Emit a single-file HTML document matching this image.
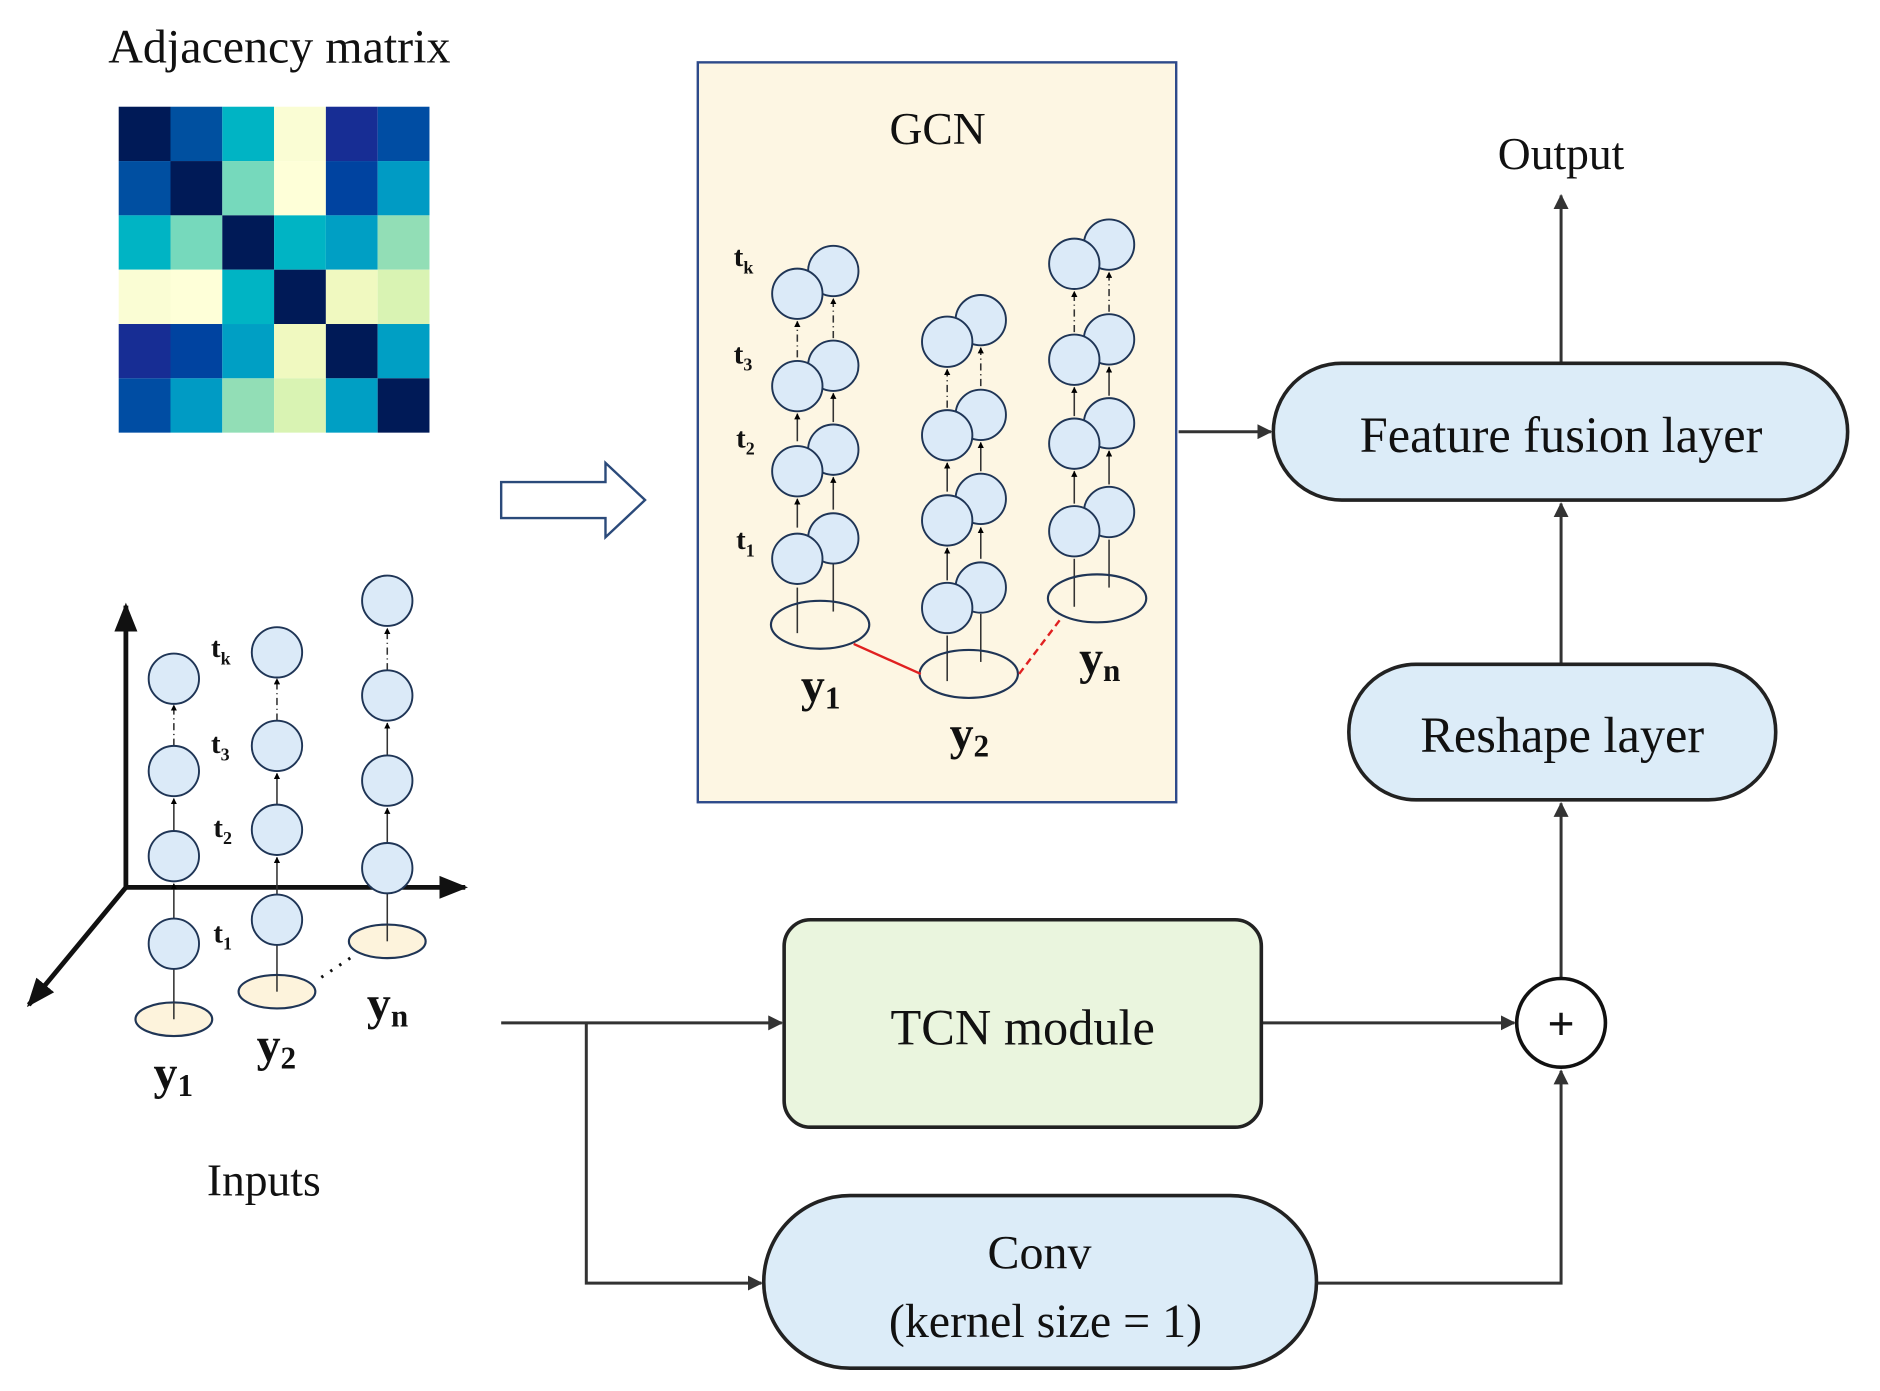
<!DOCTYPE html>
<html><head><meta charset="utf-8"><style>
html,body{margin:0;padding:0;background:#fff;}
svg{display:block;}
text{font-family:"Liberation Serif",serif;fill:#111;}
</style></head><body>
<svg width="1880" height="1391" viewBox="0 0 1568 1160" preserveAspectRatio="none" xmlns="http://www.w3.org/2000/svg">
<defs>
<marker id="ah" viewBox="0 0 10 10" refX="9" refY="5" markerWidth="5" markerHeight="5" orient="auto"><path d="M0,0 L10,5 L0,10 z" fill="#333"/></marker>
<marker id="ak" viewBox="0 0 10 10" refX="9" refY="5" markerWidth="4" markerHeight="4" orient="auto"><path d="M0,0 L10,5 L0,10 z" fill="#000"/></marker>
<marker id="sm" viewBox="0 0 10 10" refX="9" refY="5" markerWidth="6" markerHeight="6" orient="auto"><path d="M0,1 L10,5 L0,9 z" fill="#111"/></marker>
</defs>

<text x="233" y="52" font-size="40" text-anchor="middle">Adjacency matrix</text>
<g transform="translate(99,89)">
<rect x="0" y="0" width="43.2" height="45.3" fill="#001a57"/><rect x="43.2" y="0" width="43.2" height="45.3" fill="#0050a0"/><rect x="86.4" y="0" width="43.2" height="45.3" fill="#00b4c4"/><rect x="129.6" y="0" width="43.2" height="45.3" fill="#fafdd4"/><rect x="172.8" y="0" width="43.2" height="45.3" fill="#172d94"/><rect x="216" y="0" width="43.2" height="45.3" fill="#004da3"/>
<rect x="0" y="45.3" width="43.2" height="45.3" fill="#004fa1"/><rect x="43.2" y="45.3" width="43.2" height="45.3" fill="#001a57"/><rect x="86.4" y="45.3" width="43.2" height="45.3" fill="#76d9bc"/><rect x="129.6" y="45.3" width="43.2" height="45.3" fill="#feffd8"/><rect x="172.8" y="45.3" width="43.2" height="45.3" fill="#0043a0"/><rect x="216" y="45.3" width="43.2" height="45.3" fill="#009bc4"/>
<rect x="0" y="90.6" width="43.2" height="45.3" fill="#00b4c4"/><rect x="43.2" y="90.6" width="43.2" height="45.3" fill="#76d9bc"/><rect x="86.4" y="90.6" width="43.2" height="45.3" fill="#001a57"/><rect x="129.6" y="90.6" width="43.2" height="45.3" fill="#00b4c4"/><rect x="172.8" y="90.6" width="43.2" height="45.3" fill="#009fc4"/><rect x="216" y="90.6" width="43.2" height="45.3" fill="#92deb6"/>
<rect x="0" y="135.9" width="43.2" height="45.3" fill="#fafdd4"/><rect x="43.2" y="135.9" width="43.2" height="45.3" fill="#feffd8"/><rect x="86.4" y="135.9" width="43.2" height="45.3" fill="#00b4c4"/><rect x="129.6" y="135.9" width="43.2" height="45.3" fill="#001a57"/><rect x="172.8" y="135.9" width="43.2" height="45.3" fill="#f0f9c0"/><rect x="216" y="135.9" width="43.2" height="45.3" fill="#d9f3b3"/>
<rect x="0" y="181.2" width="43.2" height="45.3" fill="#172d94"/><rect x="43.2" y="181.2" width="43.2" height="45.3" fill="#0043a0"/><rect x="86.4" y="181.2" width="43.2" height="45.3" fill="#009fc4"/><rect x="129.6" y="181.2" width="43.2" height="45.3" fill="#f0f9c0"/><rect x="172.8" y="181.2" width="43.2" height="45.3" fill="#001a57"/><rect x="216" y="181.2" width="43.2" height="45.3" fill="#009fc4"/>
<rect x="0" y="226.5" width="43.2" height="45.3" fill="#004da3"/><rect x="43.2" y="226.5" width="43.2" height="45.3" fill="#009bc4"/><rect x="86.4" y="226.5" width="43.2" height="45.3" fill="#92deb6"/><rect x="129.6" y="226.5" width="43.2" height="45.3" fill="#d9f3b3"/><rect x="172.8" y="226.5" width="43.2" height="45.3" fill="#009fc4"/><rect x="216" y="226.5" width="43.2" height="45.3" fill="#001a57"/>
</g>

<path d="M418,402 L505,402 L505,386 L538,417 L505,448 L505,432 L418,432 Z" fill="#fff" stroke="#2b4a7a" stroke-width="2"/>

<rect x="582" y="52" width="399" height="617" fill="#fdf6e3" stroke="#2e4a8a" stroke-width="2"/>
<text x="782" y="120" font-size="38" text-anchor="middle">GCN</text>

<g stroke="#333" stroke-width="1.3" fill="none">
<line x1="665" y1="528" x2="665" y2="490" />
<line x1="695" y1="510" x2="695" y2="470" />
<line x1="665" y1="440" x2="665" y2="416" marker-end="url(#ak)"/>
<line x1="695" y1="425" x2="695" y2="398" marker-end="url(#ak)"/>
<line x1="665" y1="368" x2="665" y2="345" marker-end="url(#ak)"/>
<line x1="695" y1="352" x2="695" y2="328" marker-end="url(#ak)"/>
<line x1="665" y1="298" x2="665" y2="268" stroke-dasharray="6,3,1,3" marker-end="url(#ak)"/>
<line x1="695" y1="282" x2="695" y2="249" stroke-dasharray="6,3,1,3" marker-end="url(#ak)"/>
<line x1="790" y1="568" x2="790" y2="530"/>
<line x1="818" y1="552" x2="818" y2="512"/>
<line x1="790" y1="484" x2="790" y2="457" marker-end="url(#ak)"/>
<line x1="818" y1="466" x2="818" y2="440" marker-end="url(#ak)"/>
<line x1="790" y1="410" x2="790" y2="386" marker-end="url(#ak)"/>
<line x1="818" y1="393" x2="818" y2="369" marker-end="url(#ak)"/>
<line x1="790" y1="340" x2="790" y2="308" stroke-dasharray="6,3,1,3" marker-end="url(#ak)"/>
<line x1="818" y1="322" x2="818" y2="290" stroke-dasharray="6,3,1,3" marker-end="url(#ak)"/>
<line x1="896" y1="506" x2="896" y2="466"/>
<line x1="925" y1="490" x2="925" y2="450"/>
<line x1="896" y1="420" x2="896" y2="393" marker-end="url(#ak)"/>
<line x1="925" y1="404" x2="925" y2="376" marker-end="url(#ak)"/>
<line x1="896" y1="347" x2="896" y2="323" marker-end="url(#ak)"/>
<line x1="925" y1="330" x2="925" y2="306" marker-end="url(#ak)"/>
<line x1="896" y1="277" x2="896" y2="243" stroke-dasharray="6,3,1,3" marker-end="url(#ak)"/>
<line x1="925" y1="260" x2="925" y2="227" stroke-dasharray="6,3,1,3" marker-end="url(#ak)"/>
</g>
<g fill="#dbeaf8" stroke="#1f3556" stroke-width="1.6">
<circle cx="695" cy="226" r="21"/><circle cx="665" cy="245" r="21"/>
<circle cx="695" cy="305" r="21"/><circle cx="665" cy="322" r="21"/>
<circle cx="695" cy="375" r="21"/><circle cx="665" cy="393" r="21"/>
<circle cx="695" cy="449" r="21"/><circle cx="665" cy="466" r="21"/>
<circle cx="818" cy="267" r="21"/><circle cx="790" cy="285" r="21"/>
<circle cx="818" cy="346" r="21"/><circle cx="790" cy="363" r="21"/>
<circle cx="818" cy="416" r="21"/><circle cx="790" cy="434" r="21"/>
<circle cx="818" cy="490" r="21"/><circle cx="790" cy="507" r="21"/>
<circle cx="925" cy="204" r="21"/><circle cx="896" cy="220" r="21"/>
<circle cx="925" cy="283" r="21"/><circle cx="896" cy="300" r="21"/>
<circle cx="925" cy="353" r="21"/><circle cx="896" cy="370" r="21"/>
<circle cx="925" cy="427" r="21"/><circle cx="896" cy="443" r="21"/>
</g>
<g fill="none" stroke="#1f3556" stroke-width="1.8">
<ellipse cx="684" cy="521" rx="41" ry="20"/>
<ellipse cx="808" cy="562" rx="41" ry="20"/>
<ellipse cx="915" cy="499" rx="41" ry="20"/>
</g>
<line x1="712" y1="537" x2="768" y2="562" stroke="#e02020" stroke-width="2"/>
<line x1="850" y1="562" x2="884" y2="517" stroke="#e02020" stroke-width="2" stroke-dasharray="6,4"/>
<g font-weight="bold">
<text x="612" y="222" font-size="24">t<tspan font-size="15" dy="6">k</tspan></text>
<text x="612" y="303" font-size="24">t<tspan font-size="15" dy="6">3</tspan></text>
<text x="614" y="373" font-size="24">t<tspan font-size="15" dy="6">2</tspan></text>
<text x="614" y="458" font-size="24">t<tspan font-size="15" dy="6">1</tspan></text>
<text x="668" y="585" font-size="40">y<tspan font-size="26" dy="6">1</tspan></text>
<text x="792" y="625" font-size="40">y<tspan font-size="26" dy="6">2</tspan></text>
<text x="900" y="562" font-size="40">y<tspan font-size="26" dy="6">n</tspan></text>
</g>

<g stroke="#111" stroke-width="4" fill="none">
<line x1="105" y1="740" x2="105" y2="505" marker-end="url(#sm)"/>
<line x1="105" y1="740" x2="388" y2="740" marker-end="url(#sm)"/>
<line x1="105" y1="740" x2="24" y2="838" marker-end="url(#sm)"/>
</g>
<g stroke="#333" stroke-width="1.3" fill="none">
<line x1="145" y1="850" x2="145" y2="808"/>
<line x1="145" y1="766" x2="145" y2="737" marker-end="url(#ak)"/>
<line x1="145" y1="693" x2="145" y2="666" marker-end="url(#ak)"/>
<line x1="145" y1="622" x2="145" y2="588" stroke-dasharray="6,3,1,3" marker-end="url(#ak)"/>
<line x1="231" y1="827" x2="231" y2="788"/>
<line x1="231" y1="746" x2="231" y2="715" marker-end="url(#ak)"/>
<line x1="231" y1="671" x2="231" y2="645" marker-end="url(#ak)"/>
<line x1="231" y1="601" x2="231" y2="566" stroke-dasharray="6,3,1,3" marker-end="url(#ak)"/>
<line x1="323" y1="785" x2="323" y2="745"/>
<line x1="323" y1="703" x2="323" y2="674" marker-end="url(#ak)"/>
<line x1="323" y1="630" x2="323" y2="603" marker-end="url(#ak)"/>
<line x1="323" y1="559" x2="323" y2="524" stroke-dasharray="6,3,1,3" marker-end="url(#ak)"/>
</g>
<g fill="#fdf3dc" stroke="#1f3556" stroke-width="1.8">
<ellipse cx="145" cy="850" rx="32" ry="14"/>
<ellipse cx="231" cy="827" rx="32" ry="14"/>
<ellipse cx="323" cy="785" rx="32" ry="14"/>
</g>
<line x1="145" y1="850" x2="145" y2="836" stroke="#333" stroke-width="1.3"/>
<line x1="231" y1="827" x2="231" y2="813" stroke="#333" stroke-width="1.3"/>
<line x1="323" y1="785" x2="323" y2="771" stroke="#333" stroke-width="1.3"/>
<g fill="#dbeaf8" stroke="#1f3556" stroke-width="1.6">
<circle cx="145" cy="566" r="21"/><circle cx="145" cy="643" r="21"/><circle cx="145" cy="714" r="21"/><circle cx="145" cy="787" r="21"/>
<circle cx="231" cy="544" r="21"/><circle cx="231" cy="622" r="21"/><circle cx="231" cy="692" r="21"/><circle cx="231" cy="767" r="21"/>
<circle cx="323" cy="501" r="21"/><circle cx="323" cy="580" r="21"/><circle cx="323" cy="651" r="21"/><circle cx="323" cy="724" r="21"/>
</g>
<line x1="268" y1="815" x2="295" y2="797" stroke="#111" stroke-width="2.5" stroke-dasharray="2,7"/>
<g font-weight="bold">
<text x="176" y="548" font-size="24">t<tspan font-size="15" dy="6">k</tspan></text>
<text x="176" y="628" font-size="24">t<tspan font-size="15" dy="6">3</tspan></text>
<text x="178" y="698" font-size="24">t<tspan font-size="15" dy="6">2</tspan></text>
<text x="178" y="786" font-size="24">t<tspan font-size="15" dy="6">1</tspan></text>
<text x="128" y="908" font-size="40">y<tspan font-size="26" dy="6">1</tspan></text>
<text x="214" y="885" font-size="40">y<tspan font-size="26" dy="6">2</tspan></text>
<text x="306" y="850" font-size="40">y<tspan font-size="26" dy="6">n</tspan></text>
</g>
<text x="220" y="997" font-size="38" text-anchor="middle">Inputs</text>

<g stroke="#333" stroke-width="2.5" fill="none">
<line x1="983" y1="360" x2="1060" y2="360" marker-end="url(#ah)"/>
<line x1="1302" y1="303" x2="1302" y2="163" marker-end="url(#ah)"/>
<line x1="1302" y1="554" x2="1302" y2="420" marker-end="url(#ah)"/>
<line x1="1302" y1="815" x2="1302" y2="670" marker-end="url(#ah)"/>
<line x1="1052" y1="853" x2="1263" y2="853" marker-end="url(#ah)"/>
<polyline points="1098,1070 1302,1070 1302,893" marker-end="url(#ah)"/>
<line x1="418" y1="853" x2="652" y2="853" marker-end="url(#ah)"/>
<polyline points="489,853 489,1070 635,1070" marker-end="url(#ah)"/>
</g>
<text x="1302" y="141" font-size="38" text-anchor="middle">Output</text>
<rect x="1062" y="303" width="479" height="114" rx="57" fill="#dcecf8" stroke="#222" stroke-width="3"/>
<text x="1302" y="377" font-size="42" text-anchor="middle">Feature fusion layer</text>
<rect x="1125" y="554" width="356" height="113" rx="56" fill="#dcecf8" stroke="#222" stroke-width="3"/>
<text x="1303" y="627" font-size="42" text-anchor="middle">Reshape layer</text>
<circle cx="1302" cy="853" r="37" fill="#fff" stroke="#111" stroke-width="3"/>
<text x="1302" y="867" font-size="40" font-weight="bold" text-anchor="middle">+</text>
<rect x="654" y="767" width="398" height="173" rx="22" fill="#eaf5de" stroke="#222" stroke-width="3"/>
<text x="853" y="871" font-size="42" text-anchor="middle">TCN module</text>
<rect x="637" y="997" width="461" height="144" rx="72" fill="#dcecf8" stroke="#222" stroke-width="3"/>
<text x="867" y="1058" font-size="40" text-anchor="middle">Conv</text>
<text x="872" y="1115" font-size="40" text-anchor="middle">(kernel size = 1)</text>
</svg>
</body></html>
